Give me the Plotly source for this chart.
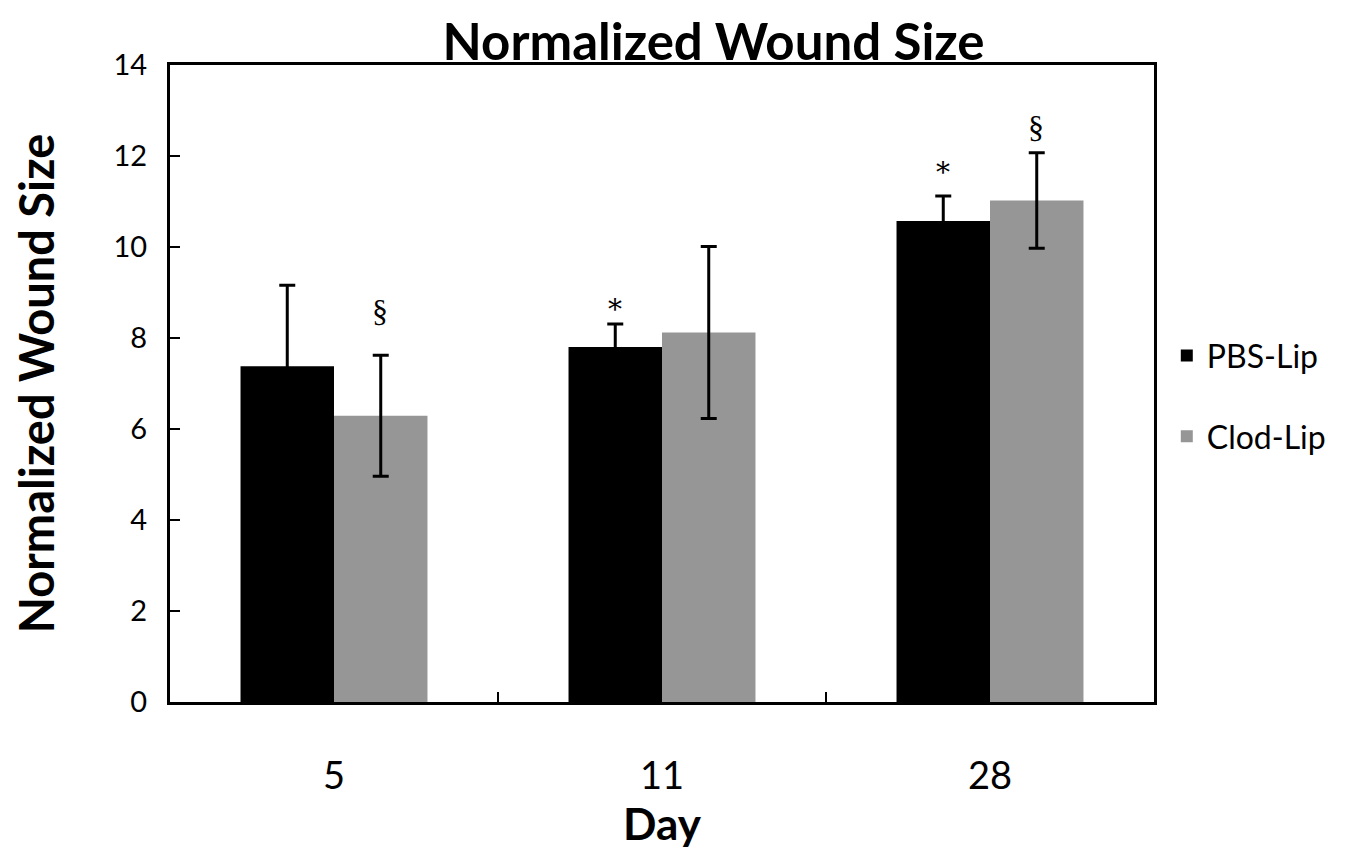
import plotly.graph_objects as go

days = ["5", "11", "28"]
pbs_mean = [7.38, 7.80, 10.57]
pbs_err = [1.78, 0.51, 0.55]
clod_mean = [6.29, 8.12, 11.02]
clod_err = [1.33, 1.89, 1.05]
pbs_marks = ["", "*", "*"]
clod_marks = ["§", "", "§"]

FONT = "Lato"

fig = go.Figure()
fig.add_trace(go.Bar(
    name="PBS-Lip", x=days, y=pbs_mean, marker_color="#000000",
    marker_line_width=0, legendgroup="a",
    error_y=dict(type="data", array=pbs_err, color="#000000", thickness=3, width=8),
))
fig.add_trace(go.Bar(
    name="Clod-Lip", x=days, y=clod_mean, marker_color="#969696",
    marker_line_width=0, legendgroup="b",
    error_y=dict(type="data", array=clod_err, color="#000000", thickness=3, width=8),
))

# significance marks, positioned by category index
pbs_shift = [0, 14, 24]
clod_shift = [44, 0, 26]
for i, d in enumerate(days):
    if pbs_marks[i]:
        fig.add_annotation(x=i, y=pbs_mean[i] + pbs_err[i], text=pbs_marks[i],
                           xshift=-47, yshift=pbs_shift[i], showarrow=False,
                           font=dict(family="DejaVu Serif", size=28, color="black"))
    if clod_marks[i]:
        fig.add_annotation(x=i, y=clod_mean[i] + clod_err[i], text=clod_marks[i],
                           xshift=46, yshift=clod_shift[i], showarrow=False,
                           font=dict(family="Liberation Serif", size=32, color="black"))

# body has an 8px margin in the page, so the figure is 8px smaller and shifted
fig.update_layout(
    width=1344, height=841,
    margin=dict(l=162, r=198, t=57, b=147),
    paper_bgcolor="white", plot_bgcolor="white",
    barmode="group", bargap=0.43, bargroupgap=0,
    title=dict(text="<b>Normalized Wound Size</b>", x=0.525, xanchor="center",
               y=0.959, yanchor="middle",
               font=dict(family=FONT, size=51, color="black")),
    font=dict(family=FONT, color="black"),
    legend=dict(x=1.013, xanchor="left", y=0.48, yanchor="middle",
                font=dict(family=FONT, size=32, color="black"),
                tracegroupgap=36, itemwidth=30, bgcolor="rgba(0,0,0,0)"),
    showlegend=True,
)
fig.update_xaxes(
    type="category", categoryorder="array", categoryarray=days,
    range=[-0.5, len(days) - 0.5],
    title=dict(text="<b>Day</b>", font=dict(family=FONT, size=44, color="black"), standoff=4),
    showline=True, linecolor="black", linewidth=3, mirror=True,
    ticks="inside", tickson="boundaries", ticklen=10, tickwidth=2, tickcolor="black",
    tickfont=dict(family=FONT, size=38, color="black"), ticklabelstandoff=38,
    tickangle=0, showgrid=False,
)
fig.update_yaxes(
    title=dict(text="<b>Normalized Wound Size</b>", font=dict(family=FONT, size=47, color="black"), standoff=46),
    range=[0, 14], dtick=2,
    showline=True, linecolor="black", linewidth=3, mirror=True,
    ticks="inside", ticklen=10, tickwidth=2, tickcolor="black",
    tickfont=dict(family=FONT, size=29, color="black"), ticklabelstandoff=14,
    showgrid=False, zeroline=False,
)

fig.write_html("out.html")
